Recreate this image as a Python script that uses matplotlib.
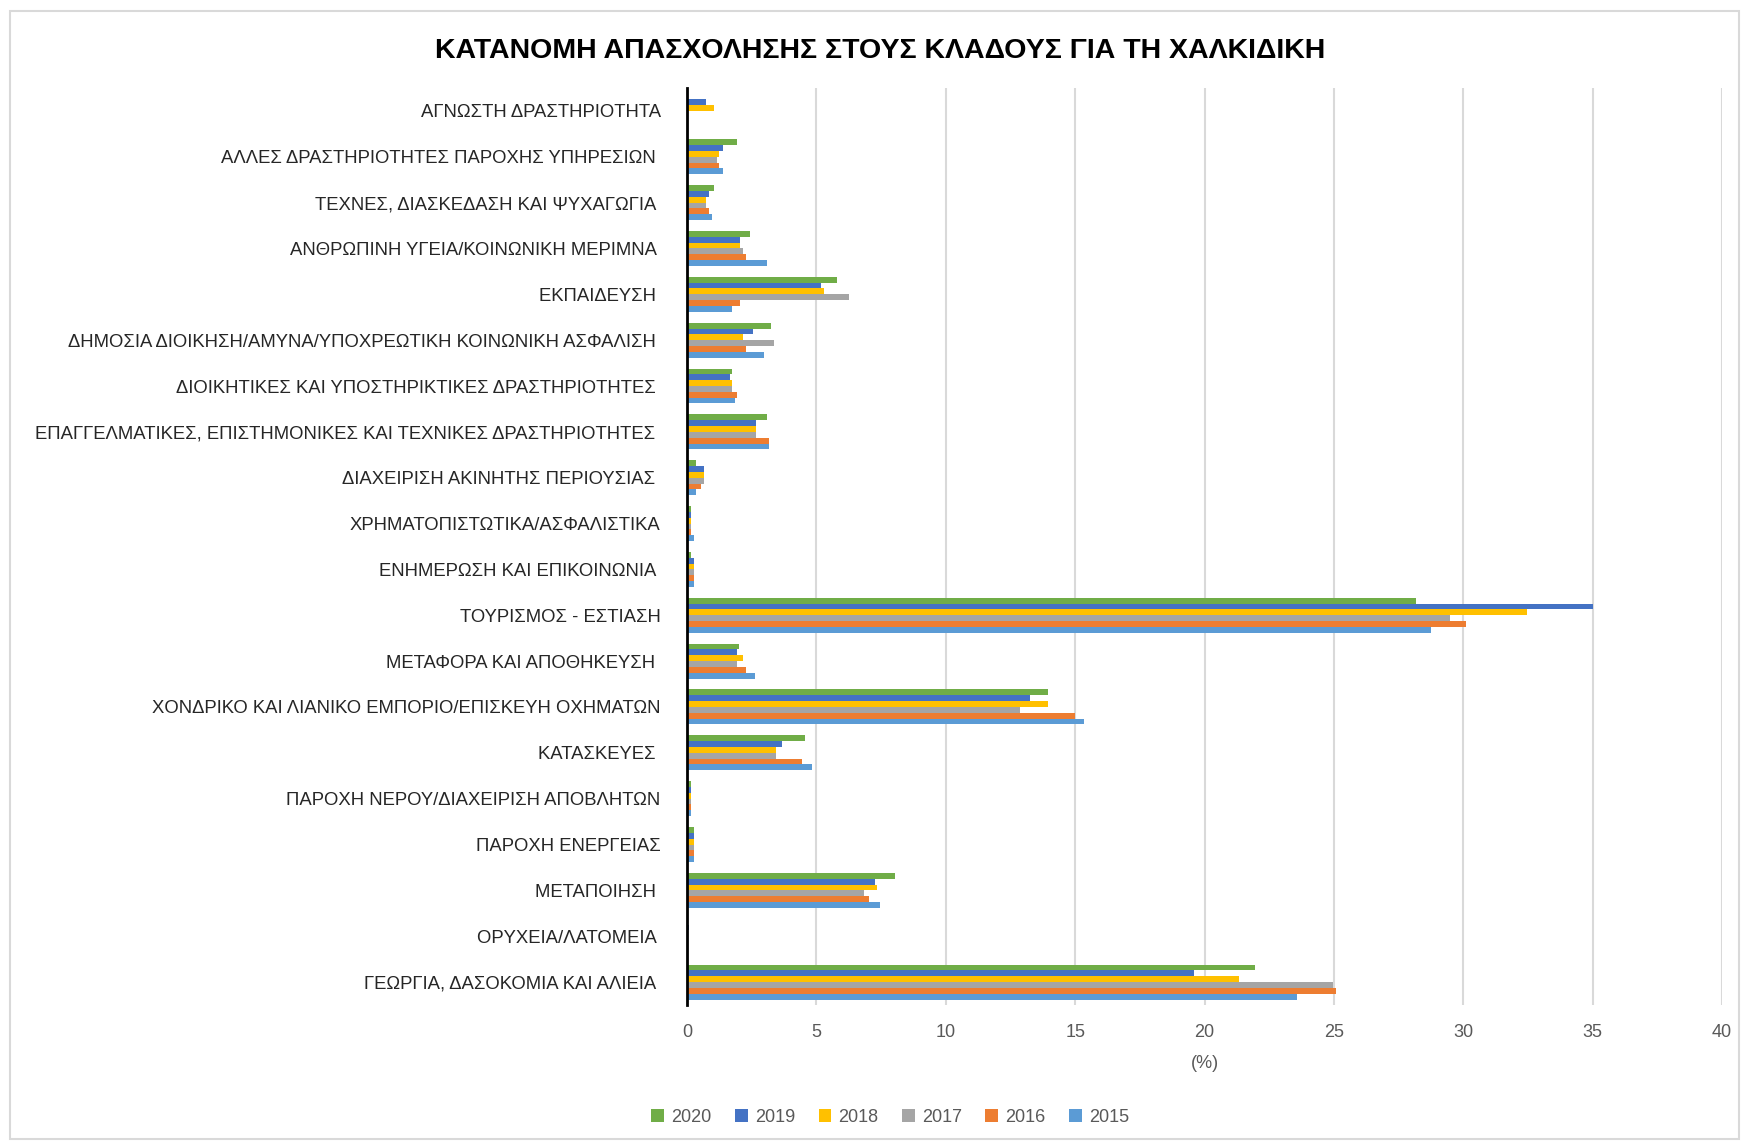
import numpy as np
import matplotlib
matplotlib.use('Agg')
import matplotlib.pyplot as plt
from matplotlib import font_manager
from matplotlib.patches import Rectangle

plt.rcParams['font.family'] = ['Liberation Sans', 'DejaVu Sans']

# categories, top to bottom as in the chart
categories = [
    'ΑΓΝΩΣΤΗ ΔΡΑΣΤΗΡΙΟΤΗΤΑ',
    'ΑΛΛΕΣ ΔΡΑΣΤΗΡΙΟΤΗΤΕΣ ΠΑΡΟΧΗΣ ΥΠΗΡΕΣΙΩΝ ',
    'ΤΕΧΝΕΣ, ΔΙΑΣΚΕΔΑΣΗ ΚΑΙ ΨΥΧΑΓΩΓΙΑ ',
    'ΑΝΘΡΩΠΙΝΗ ΥΓΕΙΑ/ΚΟΙΝΩΝΙΚΗ ΜΕΡΙΜΝΑ ',
    'ΕΚΠΑΙΔΕΥΣΗ ',
    'ΔΗΜΟΣΙΑ ΔΙΟΙΚΗΣΗ/ΑΜΥΝΑ/ΥΠΟΧΡΕΩΤΙΚΗ ΚΟΙΝΩΝΙΚΗ ΑΣΦΑΛΙΣΗ ',
    'ΔΙΟΙΚΗΤΙΚΕΣ ΚΑΙ ΥΠΟΣΤΗΡΙΚΤΙΚΕΣ ΔΡΑΣΤΗΡΙΟΤΗΤΕΣ ',
    'ΕΠΑΓΓΕΛΜΑΤΙΚΕΣ, ΕΠΙΣΤΗΜΟΝΙΚΕΣ ΚΑΙ ΤΕΧΝΙΚΕΣ ΔΡΑΣΤΗΡΙΟΤΗΤΕΣ ',
    'ΔΙΑΧΕΙΡΙΣΗ ΑΚΙΝΗΤΗΣ ΠΕΡΙΟΥΣΙΑΣ ',
    'ΧΡΗΜΑΤΟΠΙΣΤΩΤΙΚΑ/ΑΣΦΑΛΙΣΤΙΚΑ',
    'ΕΝΗΜΕΡΩΣΗ ΚΑΙ ΕΠΙΚΟΙΝΩΝΙΑ ',
    'ΤΟΥΡΙΣΜΟΣ - ΕΣΤΙΑΣΗ',
    'ΜΕΤΑΦΟΡΑ ΚΑΙ ΑΠΟΘΗΚΕΥΣΗ ',
    'ΧΟΝΔΡΙΚΟ ΚΑΙ ΛΙΑΝΙΚΟ ΕΜΠΟΡΙΟ/ΕΠΙΣΚΕΥΗ ΟΧΗΜΑΤΩΝ',
    'ΚΑΤΑΣΚΕΥΕΣ ',
    'ΠΑΡΟΧΗ ΝΕΡΟΥ/ΔΙΑΧΕΙΡΙΣΗ ΑΠΟΒΛΗΤΩΝ',
    'ΠΑΡΟΧΗ ΕΝΕΡΓΕΙΑΣ',
    'ΜΕΤΑΠΟΙΗΣΗ ',
    'ΟΡΥΧΕΙΑ/ΛΑΤΟΜΕΙΑ ',
    'ΓΕΩΡΓΙΑ, ΔΑΣΟΚΟΜΙΑ ΚΑΙ ΑΛΙΕΙΑ ',
]

years = ['2020', '2019', '2018', '2017', '2016', '2015']
colors = ['#70AD47', '#4472C4', '#FFC000', '#A5A5A5', '#ED7D31', '#5B9BD5']

y2020 = [0, 1.95, 1.04, 2.45, 5.8, 3.26, 1.75, 3.08, 0.34, 0.16, 0.16, 28.18, 2.02, 13.95, 4.55, 0.15, 0.25, 8.05, 0.05, 21.95]
y2019 = [0.75, 1.38, 0.86, 2.04, 5.19, 2.56, 1.66, 2.65, 0.66, 0.16, 0.25, 35.0, 1.93, 13.24, 3.66, 0.15, 0.25, 7.26, 0.06, 19.58]
y2018 = [1.04, 1.23, 0.75, 2.04, 5.29, 2.17, 1.75, 2.65, 0.66, 0.16, 0.25, 32.47, 2.17, 13.95, 3.43, 0.15, 0.25, 7.35, 0, 21.35]
y2017 = [0.04, 1.14, 0.75, 2.17, 6.27, 3.35, 1.75, 2.65, 0.66, 0.15, 0.25, 29.5, 1.93, 12.86, 3.43, 0.15, 0.25, 6.83, 0, 24.98]
y2016 = [0.04, 1.23, 0.86, 2.27, 2.04, 2.27, 1.95, 3.17, 0.53, 0.16, 0.25, 30.09, 2.26, 14.98, 4.46, 0.15, 0.25, 7.02, 0, 25.07]
y2015 = [0.05, 1.38, 0.95, 3.08, 1.74, 2.97, 1.86, 3.17, 0.34, 0.25, 0.25, 28.77, 2.63, 15.35, 4.83, 0.15, 0.25, 7.45, 0, 23.59]
series = [y2020, y2019, y2018, y2017, y2016, y2015]

fig = plt.figure(figsize=(17.42, 11.41), dpi=100)
ax = fig.add_axes([0.3944, 0.1192, 0.5941, 0.8037])

# outer chart frame
fig.patches.append(Rectangle((0.006, 0.002), 0.992, 0.988, transform=fig.transFigure,
                             fill=False, edgecolor='#d9d9d9', linewidth=1.5))

n = len(categories)
pos = np.arange(n)[::-1]  # first category on top
bar_h = 0.127
for i, (vals, yr, c) in enumerate(zip(series, years, colors)):
    offset = (2.5 - i) * bar_h  # 2020 on top of each group
    ax.barh(pos + offset, vals, height=bar_h, color=c, label=yr, zorder=3)

ax.set_xlim(0, 40)
ax.set_ylim(-0.5, n - 0.5)
ax.set_xticks(np.arange(0, 41, 5))
ax.set_yticks(pos)
ax.set_yticklabels(categories, fontsize=13.3, color='#262626')
ax.tick_params(axis='y', length=0, pad=19)
ax.tick_params(axis='x', length=0, pad=14, labelsize=13, labelcolor='#595959')
ax.grid(axis='x', color='#d9d9d9', linewidth=1.5, zorder=0)
for s in ['top', 'right', 'bottom']:
    ax.spines[s].set_visible(False)
ax.spines['left'].set_color('black')
ax.spines['left'].set_linewidth(2)
ax.spines['left'].set_zorder(4)

ax.set_xlabel('(%)', fontsize=13, color='#595959', labelpad=10)

# condensed bold title if a narrow face is installed
names = {f.name for f in font_manager.fontManager.ttflist}
if 'Liberation Sans Narrow' in names:
    title_family, title_size = ['Liberation Sans Narrow', 'DejaVu Sans'], 22
else:
    title_family, title_size = ['Liberation Sans', 'DejaVu Sans'], 20.5
fig.text(0.505, 0.955, 'ΚΑΤΑΝΟΜΗ ΑΠΑΣΧΟΛΗΣΗΣ ΣΤΟΥΣ ΚΛΑΔΟΥΣ ΓΙΑ ΤΗ ΧΑΛΚΙΔΙΚΗ',
         ha='center', va='center', fontsize=title_size, fontweight='bold',
         family=title_family)

fig.legend(loc='center', bbox_to_anchor=(0.511, 0.021), ncol=6, frameon=False,
           fontsize=13, handlelength=0.7, handleheight=0.7, handletextpad=0.4,
           columnspacing=1.3, labelcolor='#595959')

fig.savefig('out.png', dpi=100)
